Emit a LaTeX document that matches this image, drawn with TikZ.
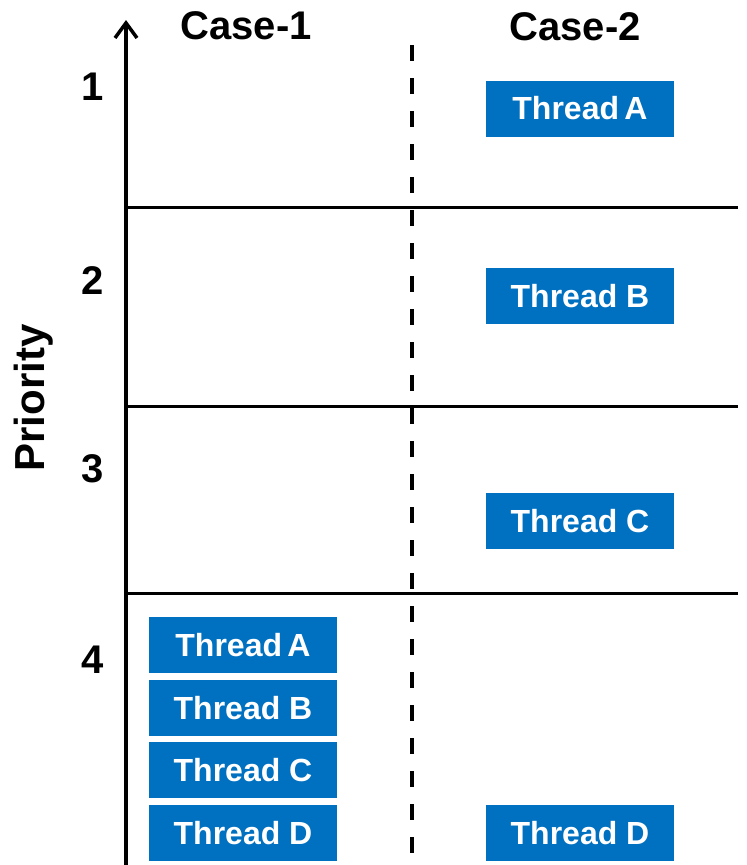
\documentclass[tikz,border=0pt]{standalone}
\usepackage{fontspec}
\setmainfont{Liberation Sans}
\usetikzlibrary{arrows.meta}
\definecolor{thblue}{RGB}{0,112,192}
\begin{document}
\begin{tikzpicture}[x=1pt,y=-1pt,
  thread/.style={fill=thblue, text=white, minimum width=188pt, minimum height=56pt, inner sep=0pt,
    font=\fontsize{32}{36}\selectfont\bfseries},
  head/.style={font=\fontsize{40}{46}\selectfont\bfseries, inner sep=0pt, anchor=base},
  rowline/.style={line width=3pt},
]
\useasboundingbox (0,0) rectangle (747,865);
\fill[white] (0,0) rectangle (747,865);

% axis
\coordinate (axb) at (126,865);
\coordinate (axt) at (126,20);
\draw[line width=3.5pt, -{Straight Barb[length=15pt,width=22pt]}] (axb) -- (axt);

% horizontal separators
\coordinate (h1l) at (126,207); \coordinate (h1r) at (738,207);
\coordinate (h2l) at (126,406); \coordinate (h2r) at (738,406);
\coordinate (h3l) at (126,593); \coordinate (h3r) at (738,593);
\draw[rowline] (h1l) -- (h1r);
\draw[rowline] (h2l) -- (h2r);
\draw[rowline] (h3l) -- (h3r);

% dashed divider
\coordinate (dt) at (412,45);
\coordinate (db) at (412,865);
\draw[line width=3.5pt, dash pattern=on 16pt off 17pt] (dt) -- (db);

% headers
\node[head] (c1) at (246,39) {Case-1};
\node[head] (c2) at (575,40) {Case-2};

% priority numbers
\node[head] (p1) at (93,100) {1};
\node[head] (p2) at (93,294) {2};
\node[head] (p3) at (93,482) {3};
\node[head] (p4) at (93,673) {4};

% axis label
\node[font=\fontsize{42}{48}\selectfont\bfseries, inner sep=0pt, anchor=base, rotate=90] (pr) at (44,398) {Priority};

% case 2 threads
\node[thread] (c2a) at (580,108.5) {Thread\,A};
\node[thread] (c2b) at (580,296) {Thread B};
\node[thread] (c2c) at (580,521) {Thread C};
\node[thread] (c2d) at (580,833) {Thread D};

% case 1 threads
\node[thread] (c1a) at (243,645) {Thread\,A};
\node[thread] (c1b) at (243,708) {Thread B};
\node[thread] (c1c) at (243,770) {Thread C};
\node[thread] (c1d) at (243,833) {Thread D};
\end{tikzpicture}
\end{document}
